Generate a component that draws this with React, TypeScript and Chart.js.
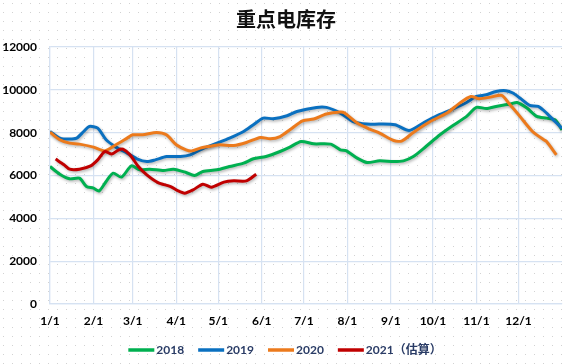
import React, { useEffect, useRef } from "react";
import { Chart, registerables } from "chart.js";

Chart.register(...registerables);

const TITLE = "重点电库存";
const monthStartDays = [0, 31, 59, 90, 120, 151, 181, 212, 243, 273, 304, 334];
const xLabels = ["1/1", "2/1", "3/1", "4/1", "5/1", "6/1", "7/1", "8/1", "9/1", "10/1", "11/1", "12/1"];
const yTicks = [0, 2000, 4000, 6000, 8000, 10000, 12000];

const seriesNames = ["2018", "2019", "2020", "2021（估算）"];
const seriesColors = ["#00b050", "#0a70c0", "#ec7a1c", "#c00000"];

const days2018 = [0, 7, 14, 21, 26, 31, 35, 40, 45, 51, 58, 64, 71, 81, 88, 97, 103, 109, 119, 128, 138, 145, 154, 164, 171, 179, 188, 200, 207, 211, 219, 226, 235, 245, 252, 259, 268, 278, 287, 297, 304, 311, 318, 328, 333, 340, 347, 354, 360, 365];
const vals2018 = [6420, 6060, 5845, 5875, 5485, 5410, 5280, 5720, 6110, 5925, 6450, 6265, 6295, 6230, 6295, 6140, 6000, 6185, 6265, 6420, 6575, 6780, 6885, 7120, 7325, 7590, 7480, 7465, 7200, 7165, 6810, 6605, 6685, 6650, 6685, 6885, 7355, 7900, 8320, 8760, 9180, 9130, 9225, 9335, 9410, 9150, 8760, 8680, 8600, 8135];

const days2019 = [0, 7, 14, 19, 24, 28, 34, 40, 47, 55, 62, 69, 75, 83, 93, 100, 107, 119, 128, 138, 145, 152, 159, 169, 176, 190, 197, 207, 216, 226, 235, 246, 256, 266, 275, 287, 297, 304, 311, 318, 325, 330, 335, 342, 348, 354, 360, 365];
const vals2019 = [8055, 7745, 7700, 7745, 8055, 8290, 8210, 7667, 7325, 7045, 6780, 6650, 6730, 6885, 6885, 6965, 7200, 7510, 7745, 8055, 8370, 8680, 8650, 8790, 8990, 9180, 9180, 8915, 8520, 8400, 8400, 8370, 8100, 8450, 8760, 9100, 9410, 9690, 9770, 9925, 9960, 9850, 9615, 9270, 9225, 8915, 8520, 8210];

const days2020 = [0, 7, 14, 21, 31, 39, 47, 55, 59, 66, 76, 83, 90, 97, 101, 107, 116, 121, 131, 140, 150, 157, 164, 171, 180, 188, 197, 207, 210, 219, 228, 235, 245, 251, 259, 271, 283, 292, 300, 306, 314, 322, 328, 335, 344, 352, 354, 361];
const vals2020 = [8025, 7670, 7510, 7465, 7325, 7150, 7435, 7745, 7900, 7900, 8010, 7900, 7435, 7200, 7150, 7280, 7385, 7435, 7400, 7540, 7775, 7715, 7820, 8135, 8555, 8635, 8870, 8960, 8915, 8450, 8165, 7980, 7635, 7620, 8010, 8520, 8915, 9380, 9690, 9585, 9660, 9740, 9300, 8760, 8055, 7670, 7590, 6965];

const days2021 = [4, 10, 14, 21, 29, 34, 39, 44, 49, 52, 57, 63, 69, 77, 86, 91, 96, 102, 109, 115, 124, 131, 140, 147];
const vals2021 = [6765, 6500, 6295, 6295, 6450, 6730, 7120, 7000, 7200, 7230, 6965, 6420, 6030, 5670, 5485, 5295, 5175, 5330, 5595, 5455, 5690, 5750, 5750, 6060];

const allDays = [days2018, days2019, days2020, days2021];
const allVals = [vals2018, vals2019, vals2020, vals2021];

const GRID = "#d6e2f2";
const TICK_FONT = { family: "Lato, 'Noto Sans CJK SC', sans-serif", size: 12, weight: "bold" as const };

const bgPlugin = {
  id: "bgDots",
  beforeDraw(chart: any) {
    const { ctx, width, height } = chart;
    ctx.save();
    ctx.fillStyle = "#ffffff";
    ctx.fillRect(0, 0, width, height);
    ctx.fillStyle = "#d2d2d2";
    for (let y = 3; y < height; y += 9) {
      for (let x = 3; x < width; x += 9) ctx.fillRect(x, y, 1, 1);
    }
    ctx.restore();
  },
};

const shadowPlugin = {
  id: "lineShadow",
  beforeDatasetsDraw(chart: any) {
    const ctx = chart.ctx;
    ctx.save();
    ctx.shadowColor = "rgba(0,0,0,0.3)";
    ctx.shadowBlur = 3;
    ctx.shadowOffsetX = 1;
    ctx.shadowOffsetY = 1.5;
  },
  afterDatasetsDraw(chart: any) {
    chart.ctx.restore();
  },
};

const textPlugin = {
  id: "titleLegend",
  afterDraw(chart: any) {
    const ctx = chart.ctx;
    ctx.save();
    ctx.fillStyle = "#111111";
    ctx.font = "bold 20px 'Noto Sans CJK SC', sans-serif";
    ctx.textAlign = "center";
    ctx.textBaseline = "middle";
    ctx.fillText(TITLE, 286, 19);

    ctx.font = "bold 12px Lato, 'Noto Sans CJK SC', sans-serif";
    ctx.textAlign = "left";
    const mark = 26, gap = 2, space = 14;
    const widths = seriesNames.map((n) => ctx.measureText(n).width);
    const total = widths.reduce((a, w) => a + mark + gap + w, 0) + space * (seriesNames.length - 1);
    let x = 285 - total / 2;
    const y = 350;
    seriesNames.forEach((n, i) => {
      ctx.strokeStyle = seriesColors[i];
      ctx.lineWidth = 3.5;
      ctx.beginPath();
      ctx.moveTo(x, y);
      ctx.lineTo(x + mark, y);
      ctx.stroke();
      ctx.fillStyle = "#2a3c66";
      ctx.fillText(n, x + mark + gap, y + 0.5);
      x += mark + gap + widths[i] + space;
    });
    ctx.restore();
  },
};

export default function App() {
  const ref = useRef<HTMLCanvasElement | null>(null);

  useEffect(() => {
    if (!ref.current) return;
    const datasets = seriesNames.map((name, i) => ({
      label: name,
      data: allDays[i].map((d, j) => ({ x: d, y: allVals[i][j] })),
      borderColor: seriesColors[i],
      backgroundColor: seriesColors[i],
      borderWidth: 3,
      pointRadius: 0,
      tension: 0.25,
      fill: false,
      order: 4 - i,
    }));
    const chart = new Chart(ref.current, {
      type: "line",
      data: { datasets },
      plugins: [bgPlugin, shadowPlugin, textPlugin],
      options: {
        animation: false,
        responsive: false,
        layout: { padding: { top: 47, right: 5, left: 0, bottom: 0 } },
        plugins: { legend: { display: false }, title: { display: false }, tooltip: { enabled: false } },
        scales: {
          x: {
            type: "linear",
            min: 0,
            max: 365,
            afterBuildTicks: (axis: any) => {
              axis.ticks = monthStartDays.map((v) => ({ value: v }));
            },
            afterFit: (axis: any) => {
              axis.height = 60;
            },
            ticks: {
              autoSkip: false,
              maxRotation: 0,
              padding: 10,
              color: "#000",
              font: TICK_FONT,
              callback: (_v: any, idx: number) => xLabels[idx],
            },
            grid: { color: GRID, lineWidth: 1.2, drawTicks: false },
            border: { color: GRID, width: 1.2 },
          },
          y: {
            min: 0,
            max: 12000,
            afterBuildTicks: (axis: any) => {
              axis.ticks = yTicks.map((v) => ({ value: v }));
            },
            afterFit: (axis: any) => {
              axis.width = 50;
            },
            ticks: {
              padding: 13,
              color: "#000",
              font: TICK_FONT,
              callback: (v: any) => String(v),
            },
            grid: { color: GRID, lineWidth: 1.2, drawTicks: false },
            border: { color: GRID, width: 1.2 },
          },
        },
      },
    } as any);
    return () => chart.destroy();
  }, []);

  return (
    <div style={{ position: "absolute", left: 0, top: 0, width: 567, height: 364 }}>
      <canvas ref={ref} width={567} height={364} style={{ display: "block" }} />
    </div>
  );
}
